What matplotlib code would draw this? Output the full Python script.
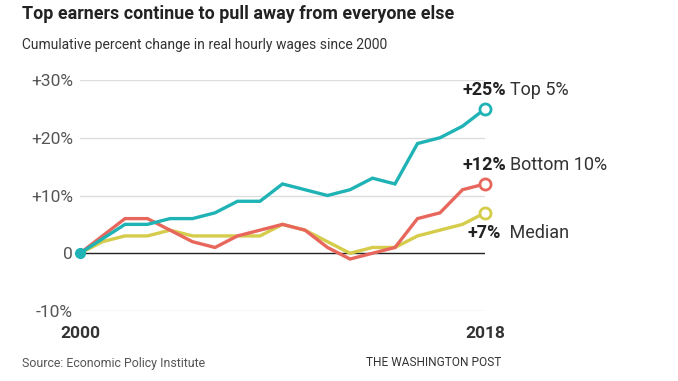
import matplotlib
matplotlib.use("Agg")
import matplotlib.pyplot as plt

years = list(range(2000, 2019))
top5 = [0, 2.5, 5, 5, 6, 6, 7, 9, 9, 12, 11, 10, 11, 13, 12, 19, 20, 22, 25]
bottom10 = [0, 3, 6, 6, 4, 2, 1, 3, 4, 5, 4, 1, -1, 0, 1, 6, 7, 11, 12]
median = [0, 2, 3, 3, 4, 3, 3, 3, 3, 5, 4, 2, 0, 1, 1, 3, 4, 5, 7]
yticks = [-10, 0, 10, 20, 30]
ytick_labels = ["-10%", "0", "+10%", "+20%", "+30%"]

plt.rcParams['font.family'] = ['Roboto', 'DejaVu Sans']

teal = "#1fb3b5"
red = "#e8675d"
yellow = "#d5cc4b"
gray = "#555555"

fig = plt.figure(figsize=(6.78, 3.81), dpi=100)
ax = fig.add_axes([80/678, 70/381, 405/678, 231/381])
ax.set_xlim(2000, 2018)
ax.set_ylim(-10, 30)
for s in ax.spines.values():
    s.set_visible(False)
ax.set_xticks([])
ax.set_yticks(yticks)
ax.set_yticklabels(ytick_labels, fontsize=12.5, color=gray)
ax.tick_params(axis='y', length=0, pad=5)
for t in yticks:
    if t != 0:
        ax.axhline(t, color="#dddddd", lw=1, zorder=0)
ax.axhline(0, color="#222222", lw=1, zorder=1)

lw = 2.4
ax.plot(years, median, color=yellow, lw=lw, zorder=3, solid_joinstyle='miter')
ax.plot(years, bottom10, color=red, lw=lw, zorder=4, solid_joinstyle='miter')
ax.plot(years, top5, color=teal, lw=lw, zorder=5, solid_joinstyle='miter')

ax.plot([years[0]], [top5[0]], 'o', color=teal, ms=7, clip_on=False, zorder=6)
for ser, c in [(top5, teal), (bottom10, red), (median, yellow)]:
    ax.plot([years[-1]], [ser[-1]], 'o', ms=8, mfc='white', mec=c, mew=2, clip_on=False, zorder=7)

ax.text(2000, -13.9, "2000", fontsize=12.5, fontweight='bold', color="#333333", ha='center', va='center')
ax.text(2018, -13.9, "2018", fontsize=12.5, fontweight='bold', color="#333333", ha='center', va='center')

def label(x, y, pct, name):
    t = ax.text(x, y, pct, fontsize=13, fontweight='bold', color="#222222", ha='left', va='center')
    ax.annotate(name, xycoords=t, xy=(1, 0.5), xytext=(3, 0), textcoords='offset points',
                fontsize=13, color="#333333", ha='left', va='center')

label(2016.98, 28.3, "+25%", "Top 5%")
label(2016.98, 15.2, "+12%", "Bottom 10%")
label(2017.2, 3.5, "+7%", " Median")

fig.text(22/678, 1 - 14/381, "Top earners continue to pull away from everyone else",
         fontsize=12.9, fontweight='bold', color="#222222", ha='left', va='center')
fig.text(22/678, 1 - 45/381, "Cumulative percent change in real hourly wages since 2000",
         fontsize=10, color="#333333", ha='left', va='center')
fig.text(22/678, 1 - 363/381, "Source: Economic Policy Institute",
         fontsize=8.9, color=gray, ha='left', va='center')
fig.text(501/678, 1 - 363/381, "THE WASHINGTON POST",
         fontsize=8.6, color="#333333", ha='right', va='center')

fig.savefig("out.png", dpi=100)
